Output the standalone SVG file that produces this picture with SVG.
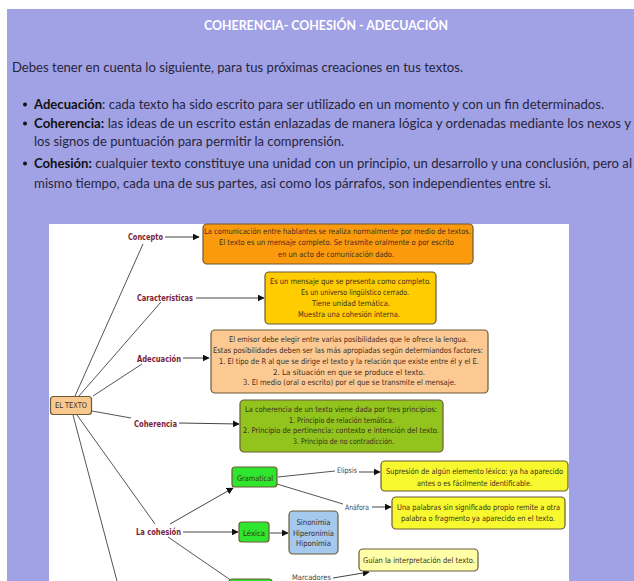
<svg xmlns="http://www.w3.org/2000/svg" width="634" height="581" viewBox="0 0 634 581">
<style>
.hd{font-family:Lato,"Open Sans","Liberation Sans",sans-serif;font-size:13px;fill:#26263a}
.hb{font-weight:bold;fill:#111}
.title{font-family:Lato,"Open Sans","Liberation Sans",sans-serif;font-size:13px;font-weight:bold;fill:#ffffff}
.bt{font-family:"DejaVu Sans","Liberation Sans",sans-serif;font-size:7.8px;fill:#3c2c1c}
.lb{font-family:"DejaVu Sans","Liberation Sans",sans-serif;font-size:8px;font-weight:bold;fill:#7a1d3a}
.sm{font-family:"DejaVu Sans","Liberation Sans",sans-serif;font-size:7.6px;fill:#444}
.ln{stroke:#555;stroke-width:1;fill:none}
.ar{stroke:#444;stroke-width:1;fill:none;marker-end:url(#ah)}
.box{stroke:#6a5a38;stroke-width:1.2}
</style>
<defs>
<marker id="ah" viewBox="0 0 10 10" refX="9" refY="5" markerWidth="7" markerHeight="7" markerUnits="userSpaceOnUse" orient="auto">
<path d="M0,0 L10,5 L0,10 z" fill="#111"/>
</marker>
</defs>
<rect x="0" y="0" width="634" height="581" fill="#ffffff"/>
<rect x="7" y="9" width="627" height="572" fill="#a1a1e6"/>
<g id="header">
<text class="title" x="326" y="30" text-anchor="middle" textLength="244" lengthAdjust="spacingAndGlyphs">COHERENCIA- COHESIÓN - ADECUACIÓN</text>
<text class="hd" x="12" y="71.5" textLength="451" lengthAdjust="spacingAndGlyphs">Debes tener en cuenta lo siguiente, para tus próximas creaciones en tus textos.</text>
<circle cx="25" cy="104.5" r="2" fill="#111"/>
<circle cx="25" cy="123.5" r="2" fill="#111"/>
<circle cx="25" cy="163.5" r="2" fill="#111"/>
<text class="hd" x="34" y="108.5" textLength="570" lengthAdjust="spacingAndGlyphs"><tspan class="hb">Adecuación</tspan>: cada texto ha sido escrito para ser utilizado en un momento y con un fin determinados.</text>
<text class="hd" x="34" y="127.5" textLength="597" lengthAdjust="spacingAndGlyphs"><tspan class="hb">Coherencia:</tspan> las ideas de un escrito están enlazadas de manera lógica y ordenadas mediante los nexos y</text>
<text class="hd" x="34" y="145.5" textLength="310" lengthAdjust="spacingAndGlyphs">los signos de puntuación para permitir la comprensión.</text>
<text class="hd" x="34" y="167.5" textLength="598" lengthAdjust="spacingAndGlyphs"><tspan class="hb">Cohesión:</tspan> cualquier texto constituye una unidad con un principio, un desarrollo y una conclusión, pero al</text>
<text class="hd" x="34" y="187.5" textLength="517" lengthAdjust="spacingAndGlyphs">mismo tiempo, cada una de sus partes, asi como los párrafos, son independientes entre si.</text>
</g>
<rect x="49" y="224" width="520" height="357" fill="#ffffff"/>
<g id="connectors">
<line class="ln" x1="75" y1="396" x2="143" y2="244"/>
<line class="ln" x1="79" y1="396" x2="161" y2="302"/>
<line class="ln" x1="93" y1="396" x2="142" y2="364"/>
<line class="ln" x1="92" y1="411" x2="131" y2="418"/>
<line class="ln" x1="77" y1="415" x2="155" y2="524"/>
<line class="ln" x1="73" y1="415" x2="117" y2="581"/>
<line class="ar" x1="165" y1="237" x2="199" y2="237"/>
<line class="ar" x1="196" y1="298" x2="264" y2="298"/>
<line class="ar" x1="183" y1="358" x2="209" y2="358"/>
<line class="ar" x1="179" y1="423" x2="239" y2="424"/>
<line class="ar" x1="170" y1="524" x2="233" y2="488"/>
<line class="ar" x1="183" y1="532" x2="238" y2="532"/>
<line class="ln" x1="168" y1="537" x2="232" y2="581"/>
<line class="ar" x1="270" y1="533" x2="288" y2="533"/>
<line class="ln" x1="278" y1="477" x2="335" y2="471"/>
<line class="ar" x1="359" y1="472" x2="380" y2="472"/>
<line class="ln" x1="277" y1="484" x2="343" y2="504"/>
<line class="ar" x1="372" y1="507" x2="391" y2="507"/>
<line class="ar" x1="333" y1="578" x2="369" y2="572"/>
</g>
<g id="el-texto">
<rect class="box" x="50.5" y="396.5" width="41" height="18" rx="3" fill="#f9c990"/>
<text class="bt" x="71" y="408.3" text-anchor="middle" textLength="32" lengthAdjust="spacingAndGlyphs" fill="#3a2a1a">EL TEXTO</text>
</g>
<g id="concepto">
<text class="lb" x="128" y="239.5" textLength="35" lengthAdjust="spacingAndGlyphs">Concepto</text>
<rect class="box" x="203" y="224" width="270" height="40" rx="4" fill="#fc9a0e"/>
<text class="bt" x="204" y="234" textLength="267" lengthAdjust="spacingAndGlyphs">La comunicación entre hablantes se realiza normalmente por medio de textos.</text>
<text class="bt" x="219" y="245.3" textLength="235" lengthAdjust="spacingAndGlyphs">El texto es un mensaje completo. Se trasmite oralmente o por escrito</text>
<text class="bt" x="278" y="256.8" textLength="116" lengthAdjust="spacingAndGlyphs">en un acto de comunicación dado.</text>
</g>
<g id="caracteristicas">
<text class="lb" x="137" y="300.5" textLength="56" lengthAdjust="spacingAndGlyphs">Características</text>
<rect class="box" x="265" y="272" width="171" height="52" rx="4" fill="#ffcc00"/>
<text class="bt" x="270" y="284" textLength="161" lengthAdjust="spacingAndGlyphs">Es un mensaje que se presenta como completo.</text>
<text class="bt" x="301" y="295" textLength="108" lengthAdjust="spacingAndGlyphs">Es un universo lingüístico cerrado.</text>
<text class="bt" x="312" y="306" textLength="78" lengthAdjust="spacingAndGlyphs">Tiene unidad temática.</text>
<text class="bt" x="298" y="317" textLength="102" lengthAdjust="spacingAndGlyphs">Muestra una cohesión interna.</text>
</g>
<g id="adecuacion">
<text class="lb" x="137" y="361.5" textLength="44" lengthAdjust="spacingAndGlyphs">Adecuación</text>
<rect class="box" x="211" y="330" width="277" height="63" rx="4" fill="#fcc992"/>
<text class="bt" x="229" y="342" textLength="239" lengthAdjust="spacingAndGlyphs">El emisor debe elegir entre varias posibilidades que le ofrece la lengua.</text>
<text class="bt" x="213" y="353" textLength="270" lengthAdjust="spacingAndGlyphs">Estas posibilidades deben ser las más apropiadas según determiandos factores:</text>
<text class="bt" x="219" y="364" textLength="260" lengthAdjust="spacingAndGlyphs">1. El tipo de R al que se dirige el texto y la relación que existe entre él y el E.</text>
<text class="bt" x="273" y="374.5" textLength="152" lengthAdjust="spacingAndGlyphs">2. La situación en que se produce el texto.</text>
<text class="bt" x="243" y="385" textLength="213" lengthAdjust="spacingAndGlyphs">3. El medio (oral o escrito) por el que se transmite el mensaje.</text>
</g>
<g id="coherencia">
<text class="lb" x="134" y="426.5" textLength="43" lengthAdjust="spacingAndGlyphs">Coherencia</text>
<rect class="box" x="240" y="400" width="203" height="52" rx="4" fill="#92c41e"/>
<text class="bt" x="245" y="412" textLength="192" lengthAdjust="spacingAndGlyphs">La coherencia de un texto viene dada por tres principios:</text>
<text class="bt" x="289" y="422.5" textLength="105" lengthAdjust="spacingAndGlyphs">1. Principio de relación temática.</text>
<text class="bt" x="243" y="433" textLength="196" lengthAdjust="spacingAndGlyphs">2. Principio de pertinencia: contexto e intención del texto.</text>
<text class="bt" x="293" y="443.5" textLength="101" lengthAdjust="spacingAndGlyphs">3. Principio de no contradicción.</text>
</g>
<g id="cohesion">
<text class="lb" x="136" y="534.5" textLength="45" lengthAdjust="spacingAndGlyphs">La cohesión</text>
</g>
<g id="gramatical">
<rect class="box" x="232" y="467" width="45" height="20" rx="3" fill="#2ee62e" stroke="#2a7a2a"/>
<text class="bt" x="255" y="480.5" text-anchor="middle" textLength="36" lengthAdjust="spacingAndGlyphs" fill="#3b5b3b">Gramatical</text>
</g>
<g id="lexica">
<rect class="box" x="239" y="522" width="30" height="20" rx="3" fill="#2ee62e" stroke="#2a7a2a"/>
<text class="bt" x="254" y="535.5" text-anchor="middle" textLength="22" lengthAdjust="spacingAndGlyphs" fill="#3b5b3b">Léxica</text>
</g>
<g id="tercero">
<rect class="box" x="229" y="579" width="43" height="20" rx="3" fill="#2ee62e" stroke="#2a7a2a"/>
</g>
<g id="sinonimia">
<rect class="box" x="289" y="511" width="49" height="43" rx="4" fill="#a4c8ee" stroke="#4a6a8a"/>
<text class="bt" x="313.5" y="524.5" text-anchor="middle" textLength="34" lengthAdjust="spacingAndGlyphs" fill="#2a3a5a">Sinonimia</text>
<text class="bt" x="313.5" y="535.5" text-anchor="middle" textLength="41" lengthAdjust="spacingAndGlyphs" fill="#2a3a5a">Hiperonimia</text>
<text class="bt" x="313.5" y="546" text-anchor="middle" textLength="35" lengthAdjust="spacingAndGlyphs" fill="#2a3a5a">Hiponimia</text>
</g>
<g id="elipsis">
<text class="sm" x="337" y="472.5" textLength="20" lengthAdjust="spacingAndGlyphs">Elipsis</text>
<rect class="box" x="381" y="461" width="187" height="30" rx="4" fill="#f8f82e" stroke="#8a8a20"/>
<text class="bt" x="386" y="473.8" textLength="177" lengthAdjust="spacingAndGlyphs">Supresión de algún elemento léxico: ya ha aparecido</text>
<text class="bt" x="417" y="485.8" textLength="115" lengthAdjust="spacingAndGlyphs">antes o es fácilmente identificable.</text>
</g>
<g id="anafora">
<text class="sm" x="345" y="509.5" textLength="24" lengthAdjust="spacingAndGlyphs">Anáfora</text>
<rect class="box" x="392" y="497" width="173" height="32" rx="4" fill="#f8f82e" stroke="#8a8a20"/>
<text class="bt" x="397" y="509.8" textLength="163" lengthAdjust="spacingAndGlyphs">Una palabras sin significado propio remite a otra</text>
<text class="bt" x="401" y="521" textLength="154" lengthAdjust="spacingAndGlyphs">palabra o fragmento ya aparecido en el texto.</text>
</g>
<g id="marcadores">
<text class="sm" x="292" y="579.5" textLength="39" lengthAdjust="spacingAndGlyphs">Marcadores</text>
<rect class="box" x="359" y="549" width="119" height="22" rx="4" fill="#ffffa8" stroke="#8a8a40"/>
<text class="bt" x="363" y="563" textLength="112" lengthAdjust="spacingAndGlyphs">Guían la interpretación del texto.</text>
</g>
</svg>
